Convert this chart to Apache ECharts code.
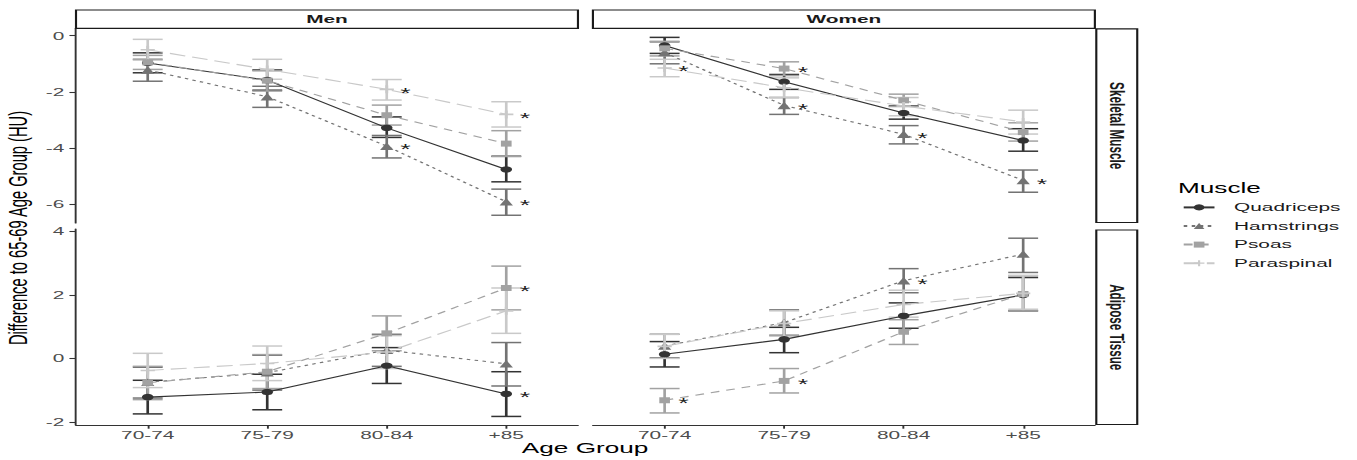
<!DOCTYPE html>
<html>
<head>
<meta charset="utf-8">
<script src="https://cdn.jsdelivr.net/npm/echarts@6/dist/echarts.min.js"></script>
<style>
  html, body { margin: 0; padding: 0; background: #ffffff; overflow: hidden; }
  #chart { width: 762.36px; height: 460px; transform: scaleX(1.78); transform-origin: 0 0; }
</style>
</head>
<body>
<div id="chart"></div>
<script>
// ---------- data ----------
const ageGroups = ['70-74', '75-79', '80-84', '+85'];
const muscles = ['Quadriceps', 'Hamstrings', 'Psoas', 'Paraspinal'];
const sexes = ['Men', 'Women'];
const tissues = ['Skeletal Muscle', 'Adipose Tissue'];
const skeletalTicks = [-6, -4, -2, 0];
const adiposeTicks = [-2, 0, 2, 4];

// each entry: [mean, lower, upper] per age group
const menSkelQuad   = [[-0.97, -1.32, -0.61], [-1.58, -1.94, -1.22], [-3.28, -3.62, -2.89], [-4.76, -5.20, -4.29]];
const menSkelHam    = [[-1.22, -1.62, -0.84], [-2.17, -2.55, -1.80], [-3.93, -4.35, -3.55], [-5.91, -6.39, -5.46]];
const menSkelPsoas  = [[-0.95, -1.20, -0.70], [-1.60, -1.97, -1.25], [-2.83, -3.18, -2.47], [-3.84, -4.30, -3.38]];
const menSkelPara   = [[-0.50, -0.87, -0.13], [-1.20, -1.55, -0.84], [-1.91, -2.29, -1.56], [-2.80, -3.25, -2.35]];

const womenSkelQuad  = [[-0.35, -0.63, -0.06], [-1.64, -1.91, -1.38], [-2.75, -2.97, -2.50], [-3.73, -4.11, -3.31]];
const womenSkelHam   = [[-0.60, -1.00, -0.22], [-2.48, -2.80, -2.20], [-3.51, -3.85, -3.20], [-5.15, -5.57, -4.78]];
const womenSkelPsoas = [[-0.45, -0.72, -0.20], [-1.17, -1.42, -0.93], [-2.30, -2.52, -2.08], [-3.43, -3.75, -3.10]];
const womenSkelPara  = [[-1.15, -1.46, -0.84], [-1.85, -2.20, -1.50], [-2.50, -2.85, -2.20], [-3.07, -3.50, -2.65]];

const menAdipQuad   = [[-1.22, -1.75, -0.69], [-1.06, -1.62, -0.50], [-0.23, -0.79, 0.34], [-1.12, -1.83, -0.42]];
const menAdipHam    = [[-0.75, -1.25, -0.28], [-0.45, -1.00, 0.10], [0.26, -0.25, 0.76], [-0.17, -0.87, 0.50]];
const menAdipPsoas  = [[-0.77, -1.30, -0.25], [-0.42, -0.95, 0.12], [0.79, 0.24, 1.34], [2.22, 1.53, 2.91]];
const menAdipPara   = [[-0.38, -0.92, 0.16], [-0.16, -0.70, 0.39], [0.20, -0.32, 0.72], [1.50, 0.79, 2.22]];

const womenAdipQuad  = [[0.13, -0.27, 0.53], [0.60, 0.18, 0.98], [1.34, 0.95, 1.75], [2.00, 1.50, 2.55]];
const womenAdipHam   = [[0.39, 0.02, 0.76], [1.13, 0.73, 1.53], [2.45, 2.07, 2.83], [3.29, 2.71, 3.79]];
const womenAdipPsoas = [[-1.32, -1.72, -0.95], [-0.71, -1.09, -0.32], [0.84, 0.44, 1.22], [2.03, 1.50, 2.60]];
const womenAdipPara  = [[0.38, 0.00, 0.76], [1.10, 0.70, 1.50], [1.70, 1.30, 2.15], [2.05, 1.55, 2.62]];

// significance stars: [muscle index, age group index]
const menSkelStars   = [[1, 2], [1, 3], [3, 2], [3, 3]];
const womenSkelStars = [[3, 0], [2, 1], [1, 1], [1, 2], [1, 3]];
const menAdipStars   = [[2, 3], [0, 3]];
const womenAdipStars = [[2, 0], [2, 1], [1, 2]];

// ---------- styling ----------
const FONT = '"Liberation Sans", Arial, sans-serif';
const colors = ['#333333', '#737373', '#a2a2a2', '#c9c9c9'];
const plusPath = 'path://M4,0h2v4h4v2h-4v4h-2v-4h-4v-2h4z';
const symbols = ['circle', 'triangle', 'rect', plusPath];
const symbolSizes = [6.5, 7.5, 6, 8];
const dashes = ['solid', [2, 2.5], [5, 4], [9, 4]];

const panelData = [
  [menSkelQuad, menSkelHam, menSkelPsoas, menSkelPara],
  [womenSkelQuad, womenSkelHam, womenSkelPsoas, womenSkelPara],
  [menAdipQuad, menAdipHam, menAdipPsoas, menAdipPara],
  [womenAdipQuad, womenAdipHam, womenAdipPsoas, womenAdipPara]
];
const panelStars = [menSkelStars, womenSkelStars, menAdipStars, womenAdipStars];

// panel geometry (pre-stretch pixels)
const colLeft = [42.7, 333.1];
const panelW = 282;
const rowTop = [28.5, 229];
const rowH = [194.5, 196];
const rowRange = [[-6.665, 0.256], [-2.10, 4.08]];
const rowTicks = [skeletalTicks, adiposeTicks];

const grids = [], xAxes = [], yAxes = [], series = [];
for (let p = 0; p < 4; p++) {
  const r = Math.floor(p / 2), c = p % 2;
  grids.push({ left: colLeft[c], top: rowTop[r], width: panelW, height: rowH[r], containLabel: false });
  const isBottom = r === 1;
  xAxes.push({
    type: 'value', gridIndex: p, min: 0.4, max: 4.6,
    show: true,
    splitLine: { show: false },
    axisLine: { show: isBottom, onZero: false, lineStyle: { color: '#333333', width: 1.07 } },
    axisTick: { show: isBottom, customValues: [1, 2, 3, 4], length: 3.7, lineStyle: { color: '#333333', width: 1.07 } },
    axisLabel: {
      show: isBottom, customValues: [1, 2, 3, 4], margin: 4,
      formatter: v => ageGroups[Math.round(v) - 1] || '',
      fontFamily: FONT, fontSize: 11.7, color: '#4d4d4d'
    }
  });
  const isLeft = c === 0;
  yAxes.push({
    type: 'value', gridIndex: p, min: rowRange[r][0], max: rowRange[r][1],
    splitLine: { show: false },
    axisLine: { show: isLeft, onZero: false, lineStyle: { color: '#333333', width: 1.07 } },
    axisTick: { show: isLeft, customValues: rowTicks[r], length: 3.7, lineStyle: { color: '#333333', width: 1.07 } },
    axisLabel: {
      show: isLeft, customValues: rowTicks[r], margin: 6.6,
      fontFamily: FONT, fontSize: 11.7, color: '#4d4d4d'
    }
  });

  // error bars
  for (let m = 0; m < 4; m++) {
    const d = panelData[p][m];
    series.push({
      type: 'custom', xAxisIndex: p, yAxisIndex: p, z: 2, silent: true,
      data: d.map((v, i) => [i + 1, v[1], v[2]]),
      encode: { x: 0, y: [1, 2] },
      renderItem: (params, api) => {
        const x = api.value(0);
        const lo = api.coord([x, api.value(1)]);
        const hi = api.coord([x, api.value(2)]);
        const w = 8.4;
        const st = { stroke: colors[m], lineWidth: 1.5 };
        return {
          type: 'group', children: [
            { type: 'line', shape: { x1: lo[0], y1: lo[1], x2: hi[0], y2: hi[1] }, style: st },
            { type: 'line', shape: { x1: lo[0] - w, y1: lo[1], x2: lo[0] + w, y2: lo[1] }, style: st },
            { type: 'line', shape: { x1: hi[0] - w, y1: hi[1], x2: hi[0] + w, y2: hi[1] }, style: st }
          ]
        };
      }
    });
  }
  // lines + points
  for (let m = 0; m < 4; m++) {
    const d = panelData[p][m];
    series.push({
      type: 'line', name: muscles[m], xAxisIndex: p, yAxisIndex: p, z: 3,
      data: d.map((v, i) => [i + 1, v[0]]),
      symbol: symbols[m], symbolSize: symbolSizes[m], showAllSymbol: true,
      lineStyle: { color: colors[m], width: 1.1, type: dashes[m] },
      itemStyle: { color: colors[m], borderWidth: 0 },
      emphasis: { disabled: true }, animation: false
    });
  }
  // stars
  series.push({
    type: 'custom', xAxisIndex: p, yAxisIndex: p, z: 4, silent: true,
    data: panelStars[p].map(s => [s[1] + 1, panelData[p][s[0]][s[1]][0]]),
    renderItem: (params, api) => {
      const pt = api.coord([api.value(0), api.value(1)]);
      return {
        type: 'text', x: pt[0] + 10.5, y: pt[1] + 3,
        style: { text: '*', fill: '#1a1a1a', font: '15px ' + FONT, align: 'center', verticalAlign: 'middle' }
      };
    }
  });
}

// ---------- strips, titles ----------
const graphics = [];
function stripRect(x, y, w, h) {
  graphics.push({ type: 'rect', shape: { x: x, y: y, width: w, height: h }, style: { fill: '#ffffff', stroke: '#1a1a1a', lineWidth: 1.2 }, z: 10 });
}
for (let c = 0; c < 2; c++) {
  stripRect(colLeft[c], 10, panelW, 18.3);
  graphics.push({ type: 'text', x: colLeft[c] + panelW / 2, y: 19.3, z: 11,
    style: { text: sexes[c], fill: '#1a1a1a', font: 'bold 11.7px ' + FONT, align: 'center', verticalAlign: 'middle' } });
}
const stripX = 615.9, stripW = 23;
const stripY = [[28.8, 193.7], [230, 194.5]];
for (let r = 0; r < 2; r++) {
  stripRect(stripX, stripY[r][0], stripW, stripY[r][1]);
  graphics.push({ type: 'text', x: stripX + stripW / 2, y: stripY[r][0] + stripY[r][1] / 2, rotation: -Math.PI / 2, z: 11,
    style: { text: tissues[r], fill: '#1a1a1a', font: 'bold 11.7px ' + FONT, align: 'center', verticalAlign: 'middle' } });
}
graphics.push({ type: 'text', x: 10.2, y: 228, rotation: Math.PI / 2, z: 11,
  style: { text: 'Difference to 65-69 Age Group (HU)', fill: '#000000', font: '14.7px ' + FONT, align: 'center', verticalAlign: 'middle' } });
graphics.push({ type: 'text', x: 328.7, y: 448, z: 11,
  style: { text: 'Age Group', fill: '#000000', font: '14.7px ' + FONT, align: 'center', verticalAlign: 'middle' } });
graphics.push({ type: 'text', x: 661.8, y: 187.5, z: 11,
  style: { text: 'Muscle', fill: '#000000', font: '14.7px ' + FONT, align: 'left', verticalAlign: 'middle' } });

const chart = echarts.init(document.getElementById('chart'), null, { renderer: 'svg' });
chart.setOption({
  animation: false,
  backgroundColor: '#ffffff',
  grid: grids,
  xAxis: xAxes,
  yAxis: yAxes,
  legend: {
    data: muscles, orient: 'vertical', left: 664, top: 201.4, padding: 0,
    itemWidth: 17.3, itemHeight: 7.5, itemGap: 6.6, selectedMode: false,
    textStyle: { fontFamily: FONT, fontSize: 11.7, color: '#1a1a1a', padding: [0, 0, 0, 6] }
  },
  graphic: graphics,
  series: series
});
</script>
</body>
</html>
